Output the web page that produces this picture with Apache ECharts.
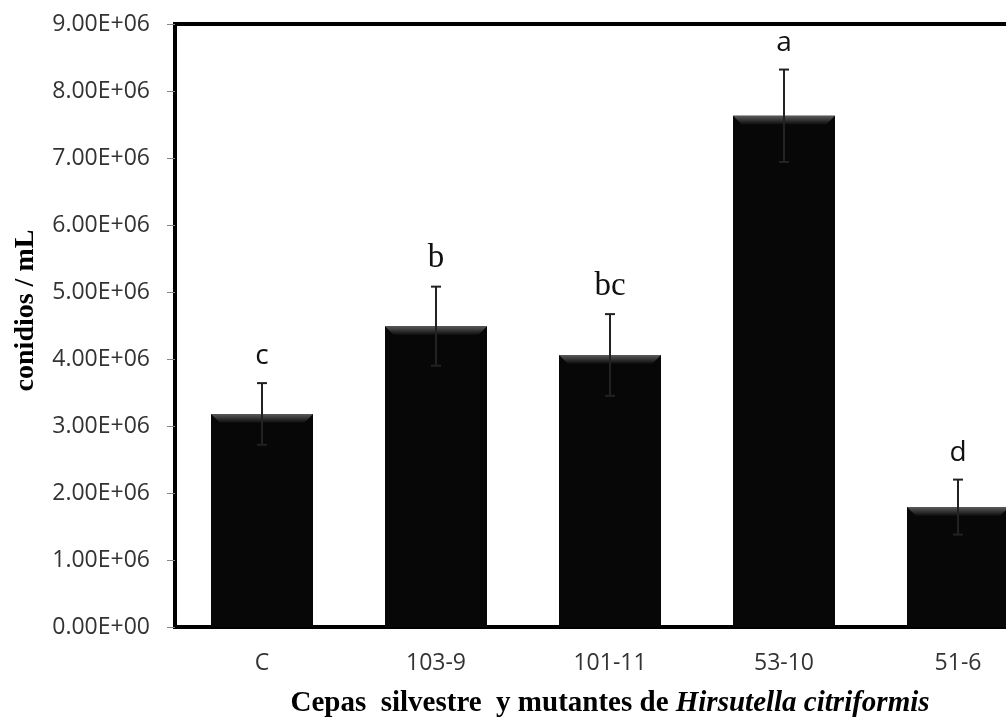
<!DOCTYPE html>
<html>
<head>
<meta charset="utf-8">
<script src="https://cdn.jsdelivr.net/npm/echarts@6/dist/echarts.min.js"></script>
<style>html,body{margin:0;padding:0;background:#fff;}#c{width:1006px;height:722px;}</style>
</head>
<body>
<div id="c"></div>
<script>
const categories = ['C', '103-9', '101-11', '53-10', '51-6'];
const means = [3.18e6, 4.49e6, 4.06e6, 7.63e6, 1.79e6];
const errors = [0.46e6, 0.59e6, 0.61e6, 0.69e6, 0.41e6];
const letters = ['c', 'b', 'bc', 'a', 'd'];
const yTicks = { min: 0, max: 9e6, interval: 1e6 };

// rendering choices
const letterIsSerif = [false, true, true, false, false];
const BAR_W = 102;

const chart = echarts.init(document.getElementById('c'));
const errData = categories.map((c, i) => [i, means[i] - errors[i], means[i] + errors[i], means[i]]);

chart.setOption({
  animation: false,
  grid: {
    left: 175, top: 24, width: 870, height: 603,
    outerBoundsMode: 'none', containLabel: false,
    show: true, borderColor: '#000', borderWidth: 4, backgroundColor: 'transparent'
  },
  xAxis: {
    type: 'category',
    data: categories,
    axisLine: { lineStyle: { color: '#000', width: 3 } },
    axisTick: { show: false },
    axisLabel: { margin: 25, fontFamily: 'Open Sans', fontSize: 23, color: '#333' },
    name: '{n|Cepas  silvestre  y mutantes de }{i|Hirsutella citriformis}',
    nameLocation: 'middle',
    nameGap: 62,
    nameTextStyle: {
      rich: {
        n: { fontFamily: 'Liberation Serif', fontWeight: 'bold', fontSize: 29, color: '#000' },
        i: { fontFamily: 'Liberation Serif', fontWeight: 'bold', fontStyle: 'italic', fontSize: 29, color: '#000' }
      }
    }
  },
  yAxis: {
    type: 'value',
    min: yTicks.min, max: yTicks.max, interval: yTicks.interval,
    axisLine: { show: true, lineStyle: { color: '#000', width: 3 } },
    axisTick: { show: true, length: 8, lineStyle: { color: '#888', width: 1 } },
    splitLine: { show: false },
    axisLabel: {
      margin: 25, fontFamily: 'Open Sans', fontSize: 23, color: '#333',
      formatter: v => v.toExponential(2).toUpperCase().replace(/E([+-])(\d)$/, 'E$10$2')
    },
    name: 'conidios / mL',
    nameLocation: 'middle',
    nameGap: 135,
    nameRotate: 90,
    nameTextStyle: { fontFamily: 'Liberation Serif', fontWeight: 'bold', fontSize: 28, color: '#000', padding: [0, 0, 0, 30] }
  },
  series: [
    {
      type: 'bar',
      data: means,
      barWidth: BAR_W,
      itemStyle: { color: '#070707' },
      z: 2
    },
    {
      type: 'custom',
      data: errData,
      z: 5,
      renderItem: (params, api) => {
        const i = api.value(0);
        const lo = api.coord([i, api.value(1)]);
        const hi = api.coord([i, api.value(2)]);
        const top = api.coord([i, api.value(3)]);
        const w = 5;
        const st = { stroke: '#222', lineWidth: 2 };
        const idx = params.dataIndex;
        const serif = letterIsSerif[idx];
        const hw = BAR_W / 2, b = 9;
        return {
          type: 'group',
          children: [
            {
              type: 'polygon',
              shape: { points: [[top[0] - hw, top[1]], [top[0] + hw, top[1]], [top[0] + hw - b, top[1] + b], [top[0] - hw + b, top[1] + b]] },
              style: { fill: new echarts.graphic.LinearGradient(0, 0, 0, 1, [{ offset: 0, color: '#5a5a5a' }, { offset: 1, color: '#0a0a0a' }]) }
            },
            { type: 'line', shape: { x1: hi[0], y1: hi[1], x2: lo[0], y2: lo[1] }, style: st },
            { type: 'line', shape: { x1: hi[0] - w, y1: hi[1], x2: hi[0] + w, y2: hi[1] }, style: st },
            { type: 'line', shape: { x1: lo[0] - w, y1: lo[1], x2: lo[0] + w, y2: lo[1] }, style: st },
            {
              type: 'text',
              style: {
                text: letters[idx],
                x: hi[0], y: hi[1] - (serif ? 28 : 27),
                align: 'center', verticalAlign: 'middle',
                fontFamily: serif ? 'Liberation Serif' : 'Open Sans',
                fontSize: serif ? 33 : 28,
                fill: '#111'
              }
            }
          ]
        };
      }
    }
  ]
});
</script>
</body>
</html>
